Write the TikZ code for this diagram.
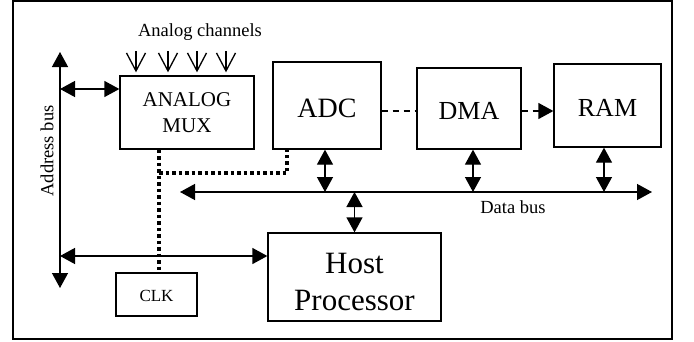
\documentclass[tikz,border=0pt]{standalone}
\usepackage{fontspec}
\setmainfont{Liberation Serif}
\usetikzlibrary{arrows.meta,calc}
\newcommand\dnbox[2]{\raisebox{-#1}[\height][\depth]{#2}}
\begin{document}
\begin{tikzpicture}[x=1pt,y=-1pt,
  lw/.style={line width=1.3pt},
  blk/.style={draw,lw,inner sep=0pt,align=center},
  dbl/.style={lw,{Triangle[length=15pt,width=16pt]}-{Triangle[length=15pt,width=16pt]}},
  sgl/.style={lw,-{Triangle[length=15pt,width=16pt]}},
  chan/.style={lw,-{Straight Barb[length=18pt,width=19pt,line width=1.3pt]}},
  dots/.style={line width=3.5pt,dash pattern=on 3.5pt off 3pt},
  dsh/.style={lw,dash pattern=on 6pt off 5pt},
  small/.style={font=\fontsize{18.5}{22}\selectfont}]
\useasboundingbox (0,0) rectangle (694,341);
\draw[lw] (13,1) rectangle (672,339);
% blocks
\node[blk,minimum width=134pt,minimum height=73pt,font=\fontsize{21}{26}\selectfont] (mux) at (187,112.5) {ANALOG\\MUX};
\node[blk,minimum width=108pt,minimum height=87pt,font=\fontsize{28}{32}\selectfont] (adc) at (327,105.5) {\dnbox{3pt}{ADC}};
\node[blk,minimum width=104pt,minimum height=81pt,font=\fontsize{26}{30}\selectfont] (dma) at (469,108.5) {\dnbox{2.5pt}{DMA}};
\node[blk,minimum width=107pt,minimum height=83pt,font=\fontsize{26}{30}\selectfont] (ram) at (607.5,105.5) {\dnbox{2pt}{RAM}};
\node[blk,minimum width=173pt,minimum height=88pt,font=\fontsize{31}{37}\selectfont] (host) at (354.5,277) {\dnbox{4.5pt}{Host}\\\dnbox{4.5pt}{Processor}};
\node[blk,minimum width=81pt,minimum height=43pt,font=\fontsize{17}{20}\selectfont] (clk) at (156.5,294.5) {\dnbox{1.5pt}{CLK}};
% labels
\node[small] (lch) at (200,32) {Analog channels};
\node[small,rotate=90] (lab) at (47,151) {Address bus};
\node[small] (ldb) at (513,207) {Data bus};
% bus coordinates
\coordinate (abT) at (60,52);
\coordinate (abB) at (60,288);
\coordinate (dbL) at (180,192);
\coordinate (dbR) at (652,192);
\coordinate (a1) at (60,89);
\coordinate (a2) at (60,256);
\coordinate (dl) at (0,111);
\coordinate (dj) at (159,173);
% buses
\draw[dbl] (abT) -- (abB);
\draw[dbl] (dbL) -- (dbR);
\draw[dbl] (a1) -- (a1 -| mux.west);
\draw[dbl] (a2) -- (a2 -| host.west);
\draw[dbl] ([xshift=-2pt]adc.south) -- ([xshift=-2pt]adc.south |- dbL);
\draw[dbl] ([xshift=4pt]dma.south) -- ([xshift=4pt]dma.south |- dbL);
\draw[dbl] ([xshift=-3.5pt]ram.south) -- ([xshift=-3.5pt]ram.south |- dbL);
\draw[dbl] (host.north) -- (host.north |- dbL);
% dashed data path
\draw[dsh] (adc.east |- dl) -- (dma.west |- dl);
\draw[dsh] (dma.east |- dl) -- ([xshift=-14pt]ram.west |- dl);
\draw[sgl] ([xshift=-16pt]ram.west |- dl) -- (ram.west |- dl);
% clock dotted lines
\draw[dots] (dj |- mux.south) -- (dj |- clk.north);
\draw[dots] (dj) -| ([xshift=-40pt]adc.south);
% analog channel arrows
\foreach \i/\x in {1/136,2/168,3/197,4/226}{
  \coordinate (c\i) at (\x,51);
  \draw[chan] (c\i) -- ([yshift=3pt]c\i |- mux.north);
}
\end{tikzpicture}
\end{document}
